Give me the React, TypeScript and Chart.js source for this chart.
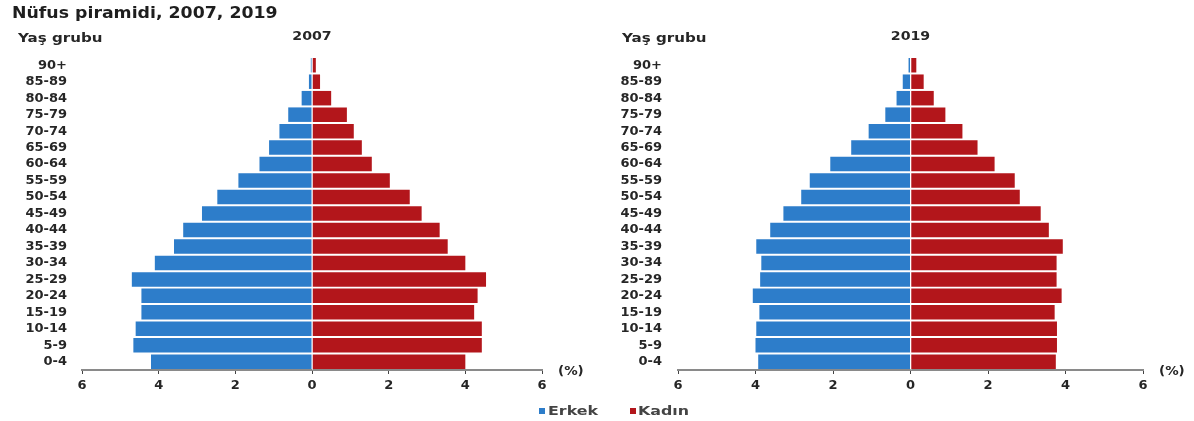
import React, { useEffect, useRef } from 'react';
import { Chart, registerables } from 'chart.js';

Chart.register(...registerables);

// ---- data ----
const AGE_GROUPS = ['0-4', '5-9', '10-14', '15-19', '20-24', '25-29', '30-34', '35-39', '40-44', '45-49', '50-54', '55-59', '60-64', '65-69', '70-74', '75-79', '80-84', '85-89', '90+'];
const MALE_2007 = [4.2, 4.66, 4.6, 4.45, 4.45, 4.7, 4.1, 3.6, 3.36, 2.87, 2.47, 1.92, 1.37, 1.12, 0.85, 0.62, 0.27, 0.08, 0.03];
const FEMALE_2007 = [4.0, 4.43, 4.43, 4.23, 4.32, 4.54, 4.0, 3.54, 3.33, 2.86, 2.55, 2.03, 1.56, 1.3, 1.09, 0.91, 0.5, 0.21, 0.1];
const MALE_2019 = [3.93, 4.0, 3.98, 3.9, 4.07, 3.88, 3.85, 3.98, 3.62, 3.28, 2.82, 2.6, 2.07, 1.53, 1.08, 0.65, 0.36, 0.2, 0.05];
const FEMALE_2019 = [3.75, 3.78, 3.78, 3.72, 3.9, 3.77, 3.77, 3.93, 3.57, 3.36, 2.82, 2.69, 2.17, 1.73, 1.34, 0.9, 0.6, 0.34, 0.15];
const SERIES_LABELS = ['Erkek', 'Kadın'];
const YEARS = ['2007', '2019'];
const X_MIN = -6;
const X_MAX = 6;
const X_STEP = 2;
const MAIN_TITLE = 'Nüfus piramidi, 2007, 2019';
const AXIS_TITLE = 'Yaş grubu';
const UNIT_LABEL = '(%)';

// ---- styles ----
const BLUE = '#2d7dca';
const RED = '#b3161b';
const TEXT = '#262626';
const FONT = '"DejaVu Sans", "Liberation Sans", sans-serif';
const W = 597;
const H = 421;

function stretchedText(ctx: any, text: string, x: number, y: number, sx: number, align: 'left' | 'center') {
  ctx.save();
  ctx.translate(x, y);
  ctx.scale(sx, 1);
  ctx.textAlign = align;
  ctx.fillText(text, 0, 0);
  ctx.restore();
}

const textPlugin = {
  id: 'pyramidText',
  afterDatasetsDraw(chart: any) {
    const { ctx, chartArea, scales } = chart;
    const x0 = scales.x.getPixelForValue(0);
    ctx.save();
    ctx.strokeStyle = 'rgba(255,255,255,0.55)';
    ctx.lineWidth = 1;
    ctx.beginPath();
    ctx.moveTo(x0 + 0.5, chartArea.top);
    ctx.lineTo(x0 + 0.5, chartArea.bottom);
    ctx.stroke();
    ctx.restore();
  },
  afterDraw(chart: any, _args: any, o: any) {
    const { ctx, chartArea, scales } = chart;
    ctx.save();
    ctx.fillStyle = '#1e1e1e';
    if (o.mainTitle) {
      ctx.font = `bold 15px ${FONT}`;
      ctx.textBaseline = 'alphabetic';
      stretchedText(ctx, o.mainTitle, 12, 18, 1.155, 'left');
    }
    ctx.fillStyle = TEXT;
    ctx.textBaseline = 'middle';
    ctx.font = `bold 12px ${FONT}`;
    stretchedText(ctx, o.year, scales.x.getPixelForValue(0), 37, 1.18, 'center');
    ctx.font = `bold 13px ${FONT}`;
    stretchedText(ctx, AXIS_TITLE, o.yasX, 39, 1.16, 'left');
    ctx.font = `bold 12px ${FONT}`;
    stretchedText(ctx, UNIT_LABEL, chartArea.right + 16, chartArea.bottom + 2, 1.12, 'left');
    ctx.restore();
  },
};

function buildChart(canvas: HTMLCanvasElement, male: number[], female: number[], cfg: any) {
  return new Chart(canvas, {
    type: 'bar',
    data: {
      labels: AGE_GROUPS,
      datasets: [
        {
          label: SERIES_LABELS[0],
          data: male.map((v) => -v),
          backgroundColor: BLUE,
          barPercentage: 0.88,
          categoryPercentage: 1,
        },
        {
          label: SERIES_LABELS[1],
          data: female,
          backgroundColor: RED,
          barPercentage: 0.88,
          categoryPercentage: 1,
        },
      ],
    },
    options: {
      indexAxis: 'y',
      responsive: false,
      animation: false,
      layout: { padding: { top: 57, right: cfg.padRight, left: 0, bottom: 0 } },
      plugins: {
        legend: { display: false },
        tooltip: { enabled: false },
        title: { display: false },
        pyramidText: { year: cfg.year, yasX: cfg.yasX, mainTitle: cfg.mainTitle },
      } as any,
      scales: {
        x: {
          type: 'linear',
          min: X_MIN,
          max: X_MAX,
          stacked: true,
          ticks: {
            stepSize: X_STEP,
            callback: (v: any) => String(Math.abs(Number(v))),
            font: { family: FONT, size: 13, weight: 'bold' },
            color: TEXT,
            padding: 4,
            maxRotation: 0,
          },
          grid: { drawOnChartArea: false, drawTicks: true, tickLength: 4, color: '#444', lineWidth: 1 },
          border: { display: true, color: '#8a8a8a', width: 2 },
          afterFit: (s: any) => {
            s.height = 51;
          },
        },
        y: {
          type: 'category',
          reverse: true,
          stacked: true,
          grid: { display: false, drawTicks: false },
          border: { display: false },
          ticks: {
            autoSkip: false,
            font: { family: FONT, size: 13, weight: 'bold' },
            color: TEXT,
            padding: cfg.labelPad,
          },
          afterFit: (s: any) => {
            s.width = cfg.yWidth;
          },
        },
      },
    } as any,
    plugins: [textPlugin],
  });
}

export default function App() {
  const leftRef = useRef<HTMLCanvasElement>(null);
  const rightRef = useRef<HTMLCanvasElement>(null);

  useEffect(() => {
    document.body.style.margin = '0';
    const c1 = buildChart(leftRef.current!, MALE_2007, FEMALE_2007, {
      year: YEARS[0],
      yasX: 18,
      mainTitle: MAIN_TITLE,
      padRight: 55,
      yWidth: 82,
      labelPad: 15,
    });
    const c2 = buildChart(rightRef.current!, MALE_2019, FEMALE_2019, {
      year: YEARS[1],
      yasX: 25,
      mainTitle: '',
      padRight: 51,
      yWidth: 81,
      labelPad: 16,
    });
    return () => {
      c1.destroy();
      c2.destroy();
    };
  }, []);

  const legendText: React.CSSProperties = {
    position: 'absolute',
    top: 404,
    font: `bold 13px ${FONT}`,
    lineHeight: '14px',
    color: '#444',
    transform: 'scaleX(1.22)',
    transformOrigin: 'left center',
    whiteSpace: 'nowrap',
  };
  const sq = (left: number, color: string): React.CSSProperties => ({
    position: 'absolute',
    left,
    top: 408,
    width: 6,
    height: 6,
    background: color,
  });

  return (
    <div style={{ position: 'absolute', left: 0, top: 0, width: 1194, height: 421, background: '#fff', overflow: 'hidden' }}>
      <canvas ref={leftRef} width={W} height={H} style={{ position: 'absolute', left: 0, top: 0, width: W, height: H }} />
      <canvas ref={rightRef} width={W} height={H} style={{ position: 'absolute', left: 597, top: 0, width: W, height: H }} />
      <div style={sq(539, BLUE)} />
      <div style={{ ...legendText, left: 548 }}>{SERIES_LABELS[0]}</div>
      <div style={sq(630, RED)} />
      <div style={{ ...legendText, left: 638 }}>{SERIES_LABELS[1]}</div>
    </div>
  );
}
